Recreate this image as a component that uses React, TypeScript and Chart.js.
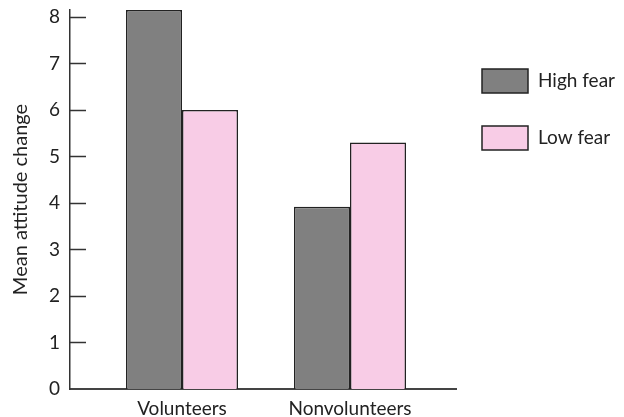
import React, { useEffect, useRef } from "react";
import { Chart, registerables } from "chart.js";

Chart.register(...registerables);

const categories = ["Volunteers", "Nonvolunteers"];
const seriesNames = ["High fear", "Low fear"];
const highFear = [8.15, 3.92];
const lowFear = [6.0, 5.3];
const yTicks = [0, 1, 2, 3, 4, 5, 6, 7, 8];
const colors = ["#808080", "#F8CCE6"];

const FONT = "Lato, 'Open Sans', sans-serif";

const innerTicks = {
  id: "innerTicks",
  afterDatasetsDraw(chart: any) {
    const y = chart.scales.y;
    const x0 = chart.chartArea.left;
    const ctx = chart.ctx;
    ctx.save();
    ctx.strokeStyle = "#333";
    ctx.lineWidth = 1.5;
    y.ticks.forEach((t: any) => {
      if (t.value === 0) return;
      const py = Math.round(y.getPixelForValue(t.value)) + 0.5;
      ctx.beginPath();
      ctx.moveTo(x0, py);
      ctx.lineTo(x0 + 16, py);
      ctx.stroke();
    });
    ctx.restore();
  },
};

const sideLegend = {
  id: "sideLegend",
  afterDraw(chart: any) {
    const ctx = chart.ctx;
    const left = chart.chartArea.right + 26;
    ctx.save();
    chart.data.datasets.forEach((ds: any, i: number) => {
      const top = 69 + i * 57;
      ctx.fillStyle = ds.backgroundColor;
      ctx.fillRect(left, top, 46, 24);
      ctx.strokeStyle = "#222";
      ctx.lineWidth = 1.5;
      ctx.strokeRect(left, top, 46, 24);
      ctx.fillStyle = "#222";
      ctx.font = `19px ${FONT}`;
      ctx.textBaseline = "middle";
      ctx.textAlign = "left";
      ctx.fillText(ds.label, left + 56, top + 12);
    });
    ctx.restore();
  },
};

export default function App() {
  const ref = useRef<HTMLCanvasElement | null>(null);
  useEffect(() => {
    if (!ref.current) return;
    const chart = new Chart(ref.current, {
      type: "bar",
      data: {
        datasets: [
          {
            label: seriesNames[0],
            data: highFear.map((v, i) => ({ x: i, y: v })),
            backgroundColor: colors[0],
            borderColor: "#222",
            borderWidth: 1.5,
          },
          {
            label: seriesNames[1],
            data: lowFear.map((v, i) => ({ x: i, y: v })),
            backgroundColor: colors[1],
            borderColor: "#222",
            borderWidth: 1.5,
          },
        ],
      },
      options: {
        animation: false,
        responsive: false,
        maintainAspectRatio: false,
        layout: { padding: { left: 0, top: 10, right: 168, bottom: 0 } },
        categoryPercentage: 0.6667,
        barPercentage: 1,
        plugins: { legend: { display: false }, tooltip: { enabled: false } },
        scales: {
          x: {
            type: "linear",
            offset: false,
            min: -0.6667,
            max: 1.631,
            afterBuildTicks: (s: any) => {
              s.ticks = categories.map((_, i) => ({ value: i }));
            },
            afterFit: (s: any) => {
              s.height = 28;
            },
            grid: { display: false, drawTicks: false, offset: false },
            border: { display: true, color: "#444", width: 2 },
            ticks: {
              padding: 8,
              color: "#222",
              font: { family: FONT, size: 19 },
              callback: (v: any) => categories[v] ?? "",
              autoSkip: false,
              maxRotation: 0,
            },
          },
          y: {
            min: 0,
            max: 8.15,
            afterBuildTicks: (s: any) => {
              s.ticks = yTicks.map((v) => ({ value: v }));
            },
            afterFit: (s: any) => {
              s.width = 70;
              s.paddingTop = 0;
              s.paddingBottom = 0;
            },
            grid: { display: false, drawTicks: false },
            border: { display: true, color: "#333", width: 1.5 },
            ticks: {
              padding: 10,
              color: "#222",
              font: { family: FONT, size: 19 },
            },
            title: {
              display: true,
              text: "Mean attitude change",
              color: "#222",
              font: { family: FONT, size: 20 },
              padding: { top: 9, bottom: 0 },
            },
          },
        },
      },
      plugins: [innerTicks, sideLegend],
    } as any);
    return () => chart.destroy();
  }, []);
  return (
    <div style={{ position: "absolute", left: 0, top: 0, width: 624, height: 417, background: "#fff" }}>
      <canvas ref={ref} width={624} height={417} />
    </div>
  );
}
